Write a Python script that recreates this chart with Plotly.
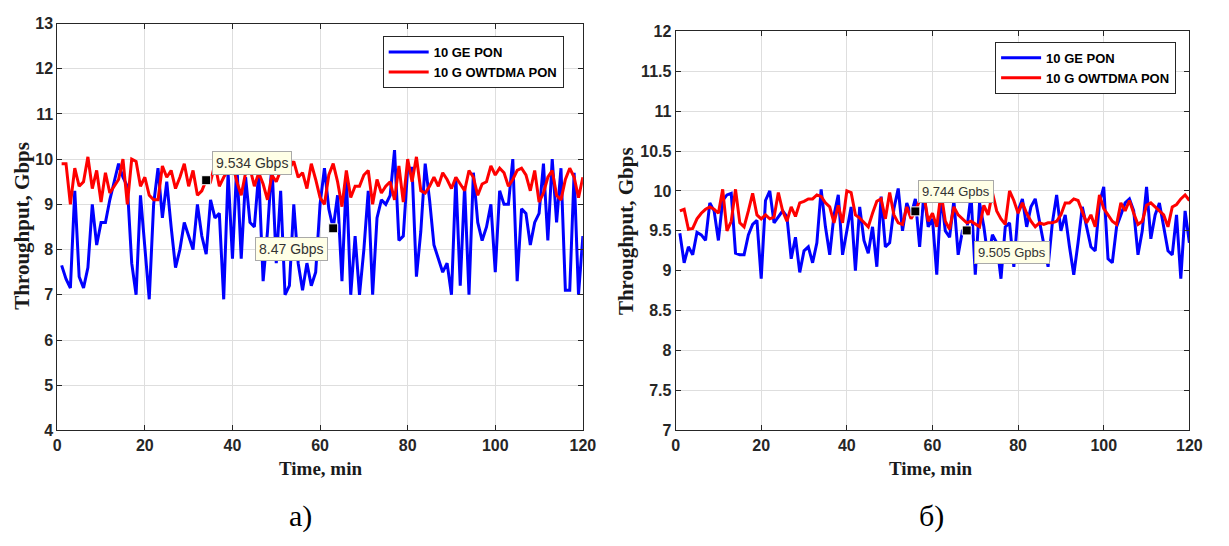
import plotly.graph_objects as go

# Time axis, minutes
minutes = list(range(1, 121))

# Panel a) throughput, Gbps
a_ge_pon = [7.65, 7.35, 7.15, 9.3, 7.4, 7.15, 7.6, 9.0, 8.1, 8.6,
            8.6, 9.1, 9.5, 9.9, 9.6, 9.4, 7.7, 7.0, 9.2, 8.1,
            6.9, 9.0, 9.8, 8.7, 9.5, 8.5, 7.6, 8.0, 8.6, 8.3,
            8.0, 9.0, 8.3, 7.9, 9.1, 8.7, 8.8, 6.9, 9.7, 7.8,
            9.9, 7.8, 9.6, 8.6, 8.5, 9.7, 7.3, 8.4, 9.9, 7.7,
            9.3, 7.0, 7.2, 9.0, 7.7, 7.1, 7.7, 7.2, 7.5, 9.0,
            9.8, 8.9, 8.47, 9.2, 7.3, 9.6, 7.0, 8.3, 7.0, 8.0,
            9.3, 7.0, 8.7, 9.1, 9.0, 9.2, 10.2, 8.2, 8.3, 9.8,
            9.8, 7.4, 8.4, 9.9, 9.1, 8.1, 7.8, 7.5, 7.7, 7.0,
            9.6, 7.2, 9.4, 7.0, 9.7, 8.6, 8.2, 8.5, 9.0, 7.5,
            9.3, 9.0, 9.0, 10.0, 7.3, 8.9, 8.8, 8.1, 8.6, 8.8,
            9.9, 8.2, 10.0, 8.6, 9.8, 7.1, 7.1, 9.7, 7.0, 8.3]
a_owtdma = [9.9, 9.9, 9.0, 9.8, 9.4, 9.5, 10.05, 9.35, 9.75, 9.05,
            9.7, 9.25, 9.4, 9.55, 10.0, 9.0, 10.0, 9.95, 9.4, 9.6,
            9.2, 9.1, 9.1, 9.85, 9.6, 9.75, 9.35, 9.6, 9.9, 9.4,
            9.75, 9.2, 9.3, 9.534, 9.5, 9.9, 9.4, 9.6, 9.75, 9.9,
            9.5, 9.2, 9.7, 9.8, 9.4, 9.7, 9.45, 9.1, 9.65, 9.5,
            9.75, 9.85, 9.8, 9.95, 9.6, 9.7, 9.35, 9.9, 9.55, 9.15,
            9.0, 9.65, 9.9, 9.5, 8.95, 9.75, 9.15, 9.4, 9.4, 9.65,
            9.75, 9.0, 9.55, 9.25, 9.4, 9.5, 9.1, 9.85, 9.05, 10.0,
            9.5, 10.05, 9.3, 9.25, 9.4, 9.6, 9.4, 9.7, 9.55, 9.35,
            9.6, 9.45, 9.3, 9.75, 9.6, 9.2, 9.45, 9.5, 9.85, 9.65,
            9.8, 9.7, 9.4, 9.55, 9.75, 9.8, 9.65, 9.3, 9.75, 9.05,
            9.25, 9.6, 9.75, 9.2, 9.1, 9.55, 9.8, 9.6, 9.15, 9.6]

# Panel б) throughput, Gbps
b_ge_pon = [9.47, 9.1, 9.3, 9.2, 9.48, 9.45, 9.38, 9.85, 9.75, 9.38,
            9.88, 9.95, 9.97, 9.22, 9.2, 9.2, 9.45, 9.58, 9.63, 8.9,
            9.88, 10.0, 9.6, 9.68, 9.75, 9.68, 9.15, 9.42, 8.98, 9.25,
            9.3, 9.1, 9.35, 10.02, 9.55, 9.2, 9.7, 9.95, 9.2, 9.5,
            9.8, 9.0, 9.8, 9.38, 9.22, 9.55, 9.05, 9.93, 9.3, 9.35,
            9.78, 10.03, 9.5, 9.85, 9.7, 9.9, 9.3, 9.97, 9.55, 9.65,
            8.95, 9.95, 9.5, 9.42, 9.88, 9.2, 9.5, 9.505, 9.95, 8.95,
            9.85, 9.55, 9.15, 9.45, 9.35, 8.9, 9.55, 9.6, 9.05, 9.75,
            9.9, 9.55, 9.8, 9.9, 9.6, 9.3, 9.05, 9.6, 9.95, 9.5,
            9.7, 9.3, 8.95, 9.35, 9.8, 9.55, 9.3, 9.25, 9.85, 10.05,
            9.15, 9.1, 9.55, 9.7, 9.85, 9.9, 9.75, 9.2, 9.5, 10.05,
            9.4, 9.7, 9.85, 9.55, 9.25, 9.2, 9.7, 8.9, 9.75, 9.35]
b_owtdma = [9.75, 9.77, 9.52, 9.53, 9.65, 9.72, 9.77, 9.8, 9.77, 9.72,
            10.02, 9.5, 9.62, 10.02, 9.6, 9.55, 9.75, 9.97, 9.7, 9.65,
            9.7, 9.65, 9.67, 9.98, 9.75, 9.62, 9.8, 9.68, 9.85, 9.87,
            9.9, 9.9, 9.95, 9.93, 9.85, 9.8, 9.6, 9.82, 9.6, 10.0,
            9.98, 9.7, 9.66, 9.6, 9.55, 9.72, 9.87, 9.9, 9.65, 9.98,
            9.7, 9.6, 9.58, 9.8, 9.65, 9.744, 9.88, 9.95, 9.62, 9.72,
            9.55, 9.98, 9.62, 9.52, 9.8, 9.7, 9.65, 9.6, 9.62, 9.58,
            9.55, 9.82, 9.7, 9.98, 9.75, 9.65, 9.58, 10.0, 9.88, 9.72,
            9.85, 9.72, 9.62, 9.55, 9.6, 9.58, 9.6, 9.6, 9.62, 9.7,
            9.85, 9.85, 9.9, 9.88, 9.75, 9.6, 9.7, 9.55, 9.95, 9.78,
            9.7, 9.62, 9.58, 9.85, 9.75, 9.88, 9.72, 9.58, 9.62, 9.82,
            9.85, 9.8, 9.75, 9.7, 9.55, 9.8, 9.83, 9.9, 9.95, 9.88]

series_names = ["10 GE PON", "10 G OWTDMA PON"]
x_ticks = [0, 20, 40, 60, 80, 100, 120]
a_y_ticks = [4, 5, 6, 7, 8, 9, 10, 11, 12, 13]
b_y_ticks = [7, 7.5, 8, 8.5, 9, 9.5, 10, 10.5, 11, 11.5, 12]

# Data tips: (panel, minute, value, label)
tips = [
    ("a", 34, 9.534, "9.534 Gbps"),
    ("a", 63, 8.47, "8.47 Gbps"),
    ("b", 56, 9.744, "9.744 Gpbs"),
    ("b", 68, 9.505, "9.505 Gpbs"),
]

W, H = 1229, 546
BLUE, RED = "#0000ff", "#ff0000"
AXC = "#262626"
GRID = "#dedede"
SANS = "Liberation Sans, Arial, sans-serif"
SERIF = "Liberation Serif, Times New Roman, serif"

fig = go.Figure()

fig.add_trace(go.Scatter(x=minutes, y=a_ge_pon, mode="lines", name=series_names[0],
                         line=dict(color=BLUE, width=3), xaxis="x", yaxis="y", legend="legend"))
fig.add_trace(go.Scatter(x=minutes, y=a_owtdma, mode="lines", name=series_names[1],
                         line=dict(color=RED, width=3), xaxis="x", yaxis="y", legend="legend"))
fig.add_trace(go.Scatter(x=minutes, y=b_ge_pon, mode="lines", name=series_names[0],
                         line=dict(color=BLUE, width=3), xaxis="x2", yaxis="y2", legend="legend2"))
fig.add_trace(go.Scatter(x=minutes, y=b_owtdma, mode="lines", name=series_names[1],
                         line=dict(color=RED, width=3), xaxis="x2", yaxis="y2", legend="legend2"))

# Data-tip markers
for panel in ("a", "b"):
    pts = [t for t in tips if t[0] == panel]
    fig.add_trace(go.Scatter(
        x=[p[1] for p in pts], y=[p[2] for p in pts], mode="markers",
        marker=dict(symbol="square", size=9, color="black", line=dict(color="white", width=1)),
        showlegend=False, hoverinfo="skip",
        xaxis="x" if panel == "a" else "x2", yaxis="y" if panel == "a" else "y2"))

# Data-tip label placement (anchor, pixel shifts, font size)
tip_pos = {
    "9.534 Gbps": ("left", "bottom", 6, 5, 14),
    "8.47 Gbps": ("right", "top", -5, -9, 14),
    "9.744 Gpbs": ("left", "bottom", 3, 8, 13),
    "9.505 Gpbs": ("left", "top", 7, -11, 13),
}
annotations = []
for panel, m, v, label in tips:
    xa, ya, dx, dy, fs = tip_pos[label]
    annotations.append(dict(
        x=m, y=v, xref="x" if panel == "a" else "x2", yref="y" if panel == "a" else "y2",
        text=label, showarrow=False, xanchor=xa, yanchor=ya, xshift=dx, yshift=dy,
        bgcolor="#ffffe6", bordercolor="#a9a9a9", borderwidth=1, borderpad=3,
        font=dict(family=SANS, size=fs, color="#333333")))

# Axis titles and panel captions
for xc in (321, 940):
    annotations.append(dict(x=xc / W, y=1 - 475 / H, xref="paper", yref="paper",
                            text="<b>Time, min</b>", showarrow=False,
                            xanchor="center", yanchor="middle",
                            font=dict(family=SERIF, size=19, color="#1a1a1a")))
for xc, ymid in ((18, 225), (631, 230)):
    annotations.append(dict(x=xc / W, y=1 - ymid / H, xref="paper", yref="paper",
                            text="<b>Throughput, Gbps</b>", showarrow=False, textangle=-90,
                            xanchor="center", yanchor="middle",
                            font=dict(family=SERIF, size=21, color="#1a1a1a")))
for xc, cap in ((301, "а)"), (941, "б)")):
    annotations.append(dict(x=xc / W, y=1 - 524 / H, xref="paper", yref="paper",
                            text=cap, showarrow=False, xanchor="center", yanchor="middle",
                            font=dict(family=SERIF, size=30, color="black")))

TICKFONT = dict(family=SANS, size=16, color=AXC, weight="bold")

def xaxis_style(domain, anchor):
    return dict(domain=domain, anchor=anchor, range=[0, 120], tickvals=x_ticks,
                showgrid=True, gridcolor=GRID, gridwidth=1, zeroline=False,
                showline=True, linecolor=AXC, linewidth=1, mirror="ticks",
                ticks="inside", ticklen=5, tickcolor=AXC, tickfont=TICKFONT)

def yaxis_style(domain, anchor, rng, vals):
    return dict(domain=domain, anchor=anchor, range=rng, tickvals=vals,
                showgrid=True, gridcolor=GRID, gridwidth=1, zeroline=False,
                showline=True, linecolor=AXC, linewidth=1, mirror="ticks",
                ticks="inside", ticklen=5, tickcolor=AXC, tickfont=TICKFONT)

legend_style = dict(bgcolor="white", bordercolor=AXC, borderwidth=1,
                    font=dict(family=SANS, size=13, color="black", weight="bold"),
                    xanchor="left", yanchor="top", tracegroupgap=0, itemwidth=40)

fig.update_layout(
    width=W, height=H,
    margin=dict(l=0, r=0, t=0, b=0),
    paper_bgcolor="white", plot_bgcolor="white",
    xaxis=xaxis_style([54 / W, 587 / W], "y"),
    yaxis=yaxis_style([1 - 436 / H, 1 - 16 / H], "x", [4, 13], a_y_ticks),
    xaxis2=xaxis_style([681 / W, 1202 / W], "y2"),
    yaxis2=yaxis_style([1 - 436 / H, 1 - 24 / H], "x2", [7, 12], b_y_ticks),
    legend=dict(x=384 / W, y=1 - 29 / H, **legend_style),
    legend2=dict(x=1005 / W, y=1 - 35 / H, **legend_style),
    annotations=annotations,
    showlegend=True,
)

fig.write_html("out.html")
